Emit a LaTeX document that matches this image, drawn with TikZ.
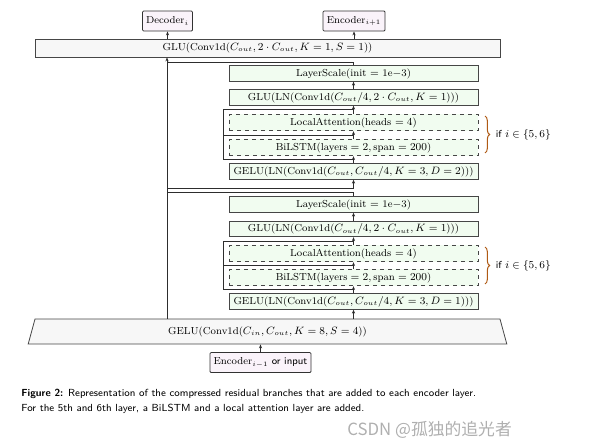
\documentclass[tikz,border=0pt]{standalone}
\usepackage{amsmath}
\usepackage{amssymb}
\usepackage{tikz}
\usetikzlibrary{arrows.meta,shapes.geometric,decorations.pathreplacing}
\usepackage{fontspec}
\newfontfamily\cjkfont{Noto Sans CJK SC}

\begin{document}
\begin{tikzpicture}[x=0.75pt,y=0.75pt,yscale=-1,xscale=1,
  font=\fontsize{7.6}{9.5}\selectfont,
  line width=0.6pt, color={rgb,255:red,45;green,45;blue,45},
  >={Stealth[length=3pt,width=2.4pt]},
  greenbox/.style={draw={rgb,255:red,70;green,70;blue,70}, fill={rgb,255:red,241;green,252;blue,240}, text=black, minimum width=186.75pt, minimum height=11.6pt, inner sep=0pt},
  optbox/.style={greenbox, dashed, minimum height=12.4pt},
  graybar/.style={draw={rgb,255:red,70;green,70;blue,70}, fill={rgb,255:red,247;green,247;blue,247}, text=black, inner sep=0pt},
  iobox/.style={draw={rgb,255:red,50;green,50;blue,50}, fill={rgb,255:red,250;green,243;blue,250}, text=black, rounded corners=0.8pt, minimum height=15pt, inner sep=1.5pt},
  bracecol/.style={draw={rgb,255:red,175;green,90;blue,20}, line width=0.75pt, decorate, decoration={brace,amplitude=3.5pt}}]
\useasboundingbox (0,0) rectangle (613,447);
% inputs and outputs
\node[iobox, minimum width=37.5pt] (dec) at (167.5,21) {Decoder$_i$};
\node[iobox, minimum width=46.5pt] (enc) at (354,21) {Encoder$_{i+1}$};
\node[iobox, minimum width=75.75pt] (encin) at (260.5,362.5) {Encoder$_{i-1}$ \sffamily or input};
\node[graybar, minimum width=348.75pt, minimum height=13.5pt] (glutop) at (267.5,48) {GLU(Conv1d($C_{out}, 2\cdot C_{out}, K=1, S=1$))};
\node[graybar, trapezium, trapezium left angle=74, trapezium right angle=74, trapezium stretches=true, minimum width=359.25pt, minimum height=18.75pt] (conv) at (267.5,331.5) {GELU(Conv1d($C_{in}, C_{out}, K=8, S=4$))};
% first branch
\node[greenbox] (ls1) at (353.5,73.5) {LayerScale(init $=$ 1e$-$3)};
\node[greenbox] (glu1) at (353.5,97.5) {GLU(LN(Conv1d($C_{out}/4, 2\cdot C_{out}, K=1$)))};
\node[optbox] (att1) at (353.5,122.5) {LocalAttention(heads $=4$)};
\node[optbox] (lstm1) at (353.5,147.5) {BiLSTM($\text{layers}=2, \text{span}=200$)};
\node[greenbox] (gelu1) at (353.5,171.5) {GELU(LN(Conv1d($C_{out}, C_{out}/4, K=3, D=2$)))};
% second branch
\node[greenbox] (ls2) at (353.5,204.5) {LayerScale(init $=$ 1e$-$3)};
\node[greenbox] (glu2) at (353.5,229) {GLU(LN(Conv1d($C_{out}/4, 2\cdot C_{out}, K=1$)))};
\node[optbox] (att2) at (353.5,253.5) {LocalAttention(heads $=4$)};
\node[optbox] (lstm2) at (353.5,277.5) {BiLSTM($\text{layers}=2, \text{span}=200$)};
\node[greenbox] (gelu2) at (353.5,301.5) {GELU(LN(Conv1d($C_{out}, C_{out}/4, K=3, D=1$)))};
% junctions
\coordinate (skipin) at (167,188);
\coordinate (skipout) at (167,192);
\coordinate (skiptop) at (167,62);
\coordinate (a1) at (353.5,159.75); \coordinate (b1) at (353.5,135); \coordinate (c1) at (353.5,109.75);
\coordinate (a2) at (353.5,289.75); \coordinate (b2) at (353.5,265.5); \coordinate (c2) at (353.5,241);
% main chain
\draw[->] (encin) -- (encin |- conv.south);
\draw[->] (conv.north -| gelu2) -- (gelu2);
\draw[->] (gelu2) -- (lstm2);
\draw[->] (lstm2) -- (att2);
\draw[->] (att2) -- (glu2);
\draw[->] (glu2) -- (ls2);
\draw (ls2) |- (skipout);
\draw[->] (skipin) -| (gelu1);
\draw[->] (gelu1) -- (lstm1);
\draw[->] (lstm1) -- (att1);
\draw[->] (att1) -- (glu1);
\draw[->] (glu1) -- (ls1);
\draw (ls1) |- (skiptop);
\draw[->] (conv.north -| skipin) -- (glutop.south -| skipin);
\draw[->] (glutop.north -| dec) -- (dec);
\draw[->] (glutop.north -| enc) -- (enc);
% inner residuals
\draw (a1) -| (223,109.75) -- (c1);
\draw (223,135) -- (b1);
\draw (a2) -| (223,241) -- (c2);
\draw (223,265.5) -- (b2);
% conditions
\draw[bracecol] (485,116) -- (485,153);
\node[anchor=west, text=black] (cond1) at (491,134.5) {\sffamily if $i\in\{5,6\}$};
\draw[bracecol] (485,247) -- (485,284);
\node[anchor=west, text=black] (cond2) at (491,265.5) {\sffamily if $i\in\{5,6\}$};
% caption
\node[anchor=west, inner sep=0pt, text=black, font=\sffamily\fontsize{7.7}{9}\selectfont] (cap1) at (21,394) {\textbf{Figure 2:} Representation of the compressed residual branches that are added to each encoder layer.};
\node[anchor=west, inner sep=0pt, text=black, font=\sffamily\fontsize{7.7}{9}\selectfont] (cap2) at (21,408.5) {For the 5th and 6th layer, a BiLSTM and a local attention layer are added.};
\node[anchor=west, inner sep=0pt, text={rgb,255:red,175;green,175;blue,175}, font=\cjkfont\fontsize{12.6}{14}\selectfont] (mark) at (347,430) {CSDN @孤独的追光者};
\end{tikzpicture}
\end{document}
